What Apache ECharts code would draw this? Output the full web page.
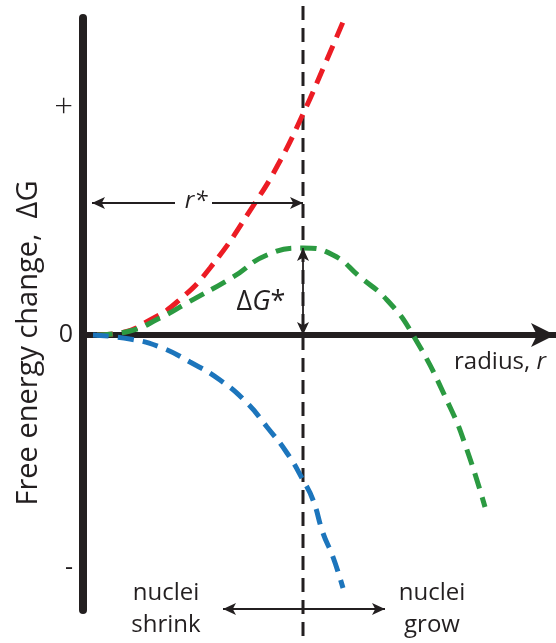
<!DOCTYPE html>
<html><head><meta charset="utf-8">
<script src="https://cdn.jsdelivr.net/npm/echarts@6/dist/echarts.min.js"></script>
<style>html,body{margin:0;padding:0;background:#fff}#c{width:556px;height:643px}</style>
</head><body><div id="c"></div>
<script>
// radius values (arbitrary units) and free-energy values
const redR   = [1.4, 3.7, 6.7, 9.4, 12.7, 17.2, 19.7, 22.0, 24.2, 26.0];
const redG   = [0, 0.2, 1.5, 3.3, 6.7, 13.2, 17.4, 22.1, 27.1, 31.3];
const greenR = [1.4, 4.7, 7.7, 10.4, 15.0, 18.4, 22.0, 25.0, 27.7, 30.4, 33.0, 36.7, 38.4, 40.2];
const greenG = [0, 0.4, 1.7, 3.2, 5.8, 8.0, 8.7, 8.0, 5.8, 3.5, 0, -7.2, -11.5, -17.2];
const blueR  = [1.0, 4.7, 7.7, 10.7, 13.7, 16.4, 18.4, 20.4, 22.0, 23.0, 24.0, 25.0, 26.0];
const blueG  = [0, -0.4, -1.2, -2.7, -4.5, -6.8, -9.2, -11.8, -14.5, -16.5, -19.8, -22.2, -25.3];
const rStar = 22.0;          // critical radius r*
const dGStar = 8.7;          // barrier height ΔG*
const criticalLineY = [32.9, -30.8];
const rStarArrowY = 13.2;
const rStarArrowX = [0.9, 9.2, 12.9, 22.0];
const growArrowY = -27.4;
const growArrowX = [14.0, 30.2];
const yTickValues = [-23.3, 0, 22.7];
const yTickLabels = ['-', '0', '+'];
const xRange = [0, 47.2];
const yRange = [-27.5, 31.7];

const BLACK = '#231F20';
const FONT = '"Open Sans", sans-serif';
const zip = (a, b) => a.map((v, i) => [v, b[i]]);

const chart = echarts.init(document.getElementById('c'), null, {renderer: 'canvas'});
const curveStyle = (c) => ({color: c, width: 5, type: [16, 9], cap: 'butt'});

chart.setOption({
  animation: false,
  grid: {left: 83, top: 18, width: 472, height: 592},
  xAxis: {
    type: 'value', min: xRange[0], max: xRange[1],
    axisLine: {show: true, onZero: true, symbol: ['none', 'arrow'], symbolSize: [18, 24],
      lineStyle: {color: BLACK, width: 6}},
    axisTick: {show: false}, axisLabel: {show: false}, splitLine: {show: false}
  },
  yAxis: {
    type: 'value', min: yRange[0], max: yRange[1],
    axisLine: {show: true, onZero: false, lineStyle: {color: BLACK, width: 8}},
    axisTick: {show: false}, splitLine: {show: false},
    axisLabel: {
      show: true, customValues: yTickValues, margin: 10,
      fontFamily: FONT, fontSize: 25, color: BLACK,
      rich: {p: {fontSize: 33, fontFamily: FONT, color: BLACK, fontWeight: 300}},
      formatter: (v) => {
        let best = 0;
        yTickValues.forEach((t, i) => { if (Math.abs(t - v) < Math.abs(yTickValues[best] - v)) best = i; });
        const s = yTickLabels[best];
        return s === '+' ? '{p|+}' : s;
      }
    }
  },
  series: [
    {type: 'line', data: [[rStar, criticalLineY[0]], [rStar, criticalLineY[1]]], clip: false,
     symbol: 'none', lineStyle: {color: BLACK, width: 3, type: [14, 8]}, z: 1},
    {type: 'line', data: zip(redR, redG), smooth: true, symbol: 'none', lineStyle: curveStyle('#EC1C24'), z: 2},
    {type: 'line', data: zip(greenR, greenG), smooth: true, symbol: 'none', lineStyle: curveStyle('#2B9A41'), z: 2},
    {type: 'line', data: zip(blueR, blueG), smooth: true, symbol: 'none', lineStyle: curveStyle('#1C75BC'), z: 2},
    {type: 'line', data: [], z: 5,
     markLine: {
       silent: true, symbol: ['none', 'arrow'], symbolSize: [9, 13],
       label: {show: false},
       lineStyle: {color: BLACK, width: 1.8, type: 'solid'},
       data: [
         [{coord: [rStarArrowX[1], rStarArrowY]}, {coord: [rStarArrowX[0], rStarArrowY]}],
         [{coord: [rStarArrowX[2], rStarArrowY]}, {coord: [rStarArrowX[3], rStarArrowY]}],
         [{coord: [rStar, dGStar], symbol: 'arrow'}, {coord: [rStar, 0], symbol: 'arrow'}],
         [{coord: [growArrowX[0], growArrowY], symbol: 'arrow'}, {coord: [growArrowX[1], growArrowY], symbol: 'arrow'}]
       ]
     }}
  ],
  graphic: [
    {type: 'text', x: 29, y: 343, rotation: Math.PI / 2, z: 10,
     style: {text: 'Free energy change,  ΔG', font: '29px ' + FONT, fill: BLACK, align: 'center', verticalAlign: 'middle'}},
    {type: 'text', x: 196, y: 201, z: 10,
     style: {text: 'r*', font: 'italic 24px ' + FONT, fill: BLACK, align: 'center', verticalAlign: 'middle'}},
    {type: 'text', x: 261, y: 302, z: 10,
     style: {text: 'Δ{i|G}*', font: '27px ' + FONT, fill: BLACK, align: 'center', verticalAlign: 'middle',
       rich: {i: {fontStyle: 'italic', fontSize: 27, fontFamily: FONT}}}},
    {type: 'text', x: 500, y: 362, z: 10,
     style: {text: 'radius, {i|r}', font: '24px ' + FONT, fill: BLACK, align: 'center', verticalAlign: 'middle',
       rich: {i: {fontStyle: 'italic', fontSize: 24, fontFamily: FONT}}}},
    {type: 'text', x: 166, y: 609, z: 10,
     style: {text: 'nuclei\nshrink', font: '24px ' + FONT, fill: BLACK, align: 'center', verticalAlign: 'middle', lineHeight: 32}},
    {type: 'text', x: 432, y: 609, z: 10,
     style: {text: 'nuclei\ngrow', font: '24px ' + FONT, fill: BLACK, align: 'center', verticalAlign: 'middle', lineHeight: 32}}
  ]
});
</script></body></html>
